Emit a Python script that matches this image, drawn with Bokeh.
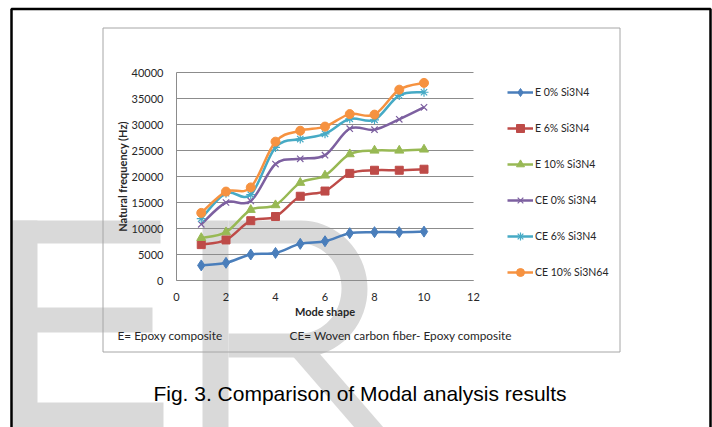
import math
from bokeh.plotting import figure
from bokeh.models import (Range1d, FixedTicker, Label, Legend, LegendItem, LinearAxis, Grid)
from bokeh.embed import file_html
from bokeh.resources import INLINE

# ---------------- data ----------------
modes = [1, 2, 3, 4, 5, 6, 7, 8, 9, 10]
e0 = [2900, 3400, 5000, 5300, 7050, 7550, 9100, 9300, 9300, 9400]
e6 = [6900, 7800, 11500, 12300, 16200, 17200, 20600, 21200, 21200, 21400]
e10 = [8200, 9300, 13600, 14500, 18800, 20200, 24300, 25000, 25000, 25200]
ce0 = [10800, 15000, 15300, 22400, 23400, 24100, 29200, 29000, 31000, 33300]
ce6 = [11900, 16800, 16500, 25600, 27200, 28200, 31100, 30900, 35600, 36200]
ce10 = [13000, 17100, 17900, 26700, 28800, 29600, 32000, 31900, 36700, 38000]
series_names = ["E 0% Si3N4", "E 6% Si3N4", "E 10% Si3N4",
                "CE 0% Si3N4", "CE 6% Si3N4", "CE 10% Si3N64"]
x_ticks = [0, 2, 4, 6, 8, 10, 12]
y_ticks = [0, 5000, 10000, 15000, 20000, 25000, 30000, 35000, 40000]
note_e = "E= Epoxy composite"
note_ce = "CE= Woven carbon fiber- Epoxy composite"
caption = "Fig. 3. Comparison of Modal analysis results"

W, H = 712, 427
# plot-area placement on the page (pixels)
PX0, PX1, PY_TOP, PY_BOT = 176, 473, 72, 280
XMIN, XMAX = x_ticks[0], x_ticks[-1]
YMIN, YMAX = y_ticks[0], y_ticks[-1]
kx = (XMAX - XMIN) / (PX1 - PX0)
ky = (YMAX - YMIN) / (PY_BOT - PY_TOP)

p = figure(width=W, height=H,
           x_range=Range1d(XMIN - PX0 * kx, XMAX + (W - PX1) * kx),
           y_range=Range1d(YMIN - (H - PY_BOT) * ky, YMAX + PY_TOP * ky),
           min_border=0, output_backend="svg", toolbar_location=None,
           x_axis_location=None, y_axis_location=None)
p.extra_x_ranges = {"px": Range1d(0, W)}
p.extra_y_ranges = {"py": Range1d(H, 0)}
p.grid.visible = False
p.outline_line_color = None
p.background_fill_color = "white"
p.border_fill_color = "white"

# ---------------- watermark (page pixels) ----------------
GRAY = "#d9d9d9"


def wrect(l, t, r, b):
    p.quad(left=[l], right=[r], top=[t], bottom=[b], fill_color=GRAY, line_color=None,
           x_range_name="px", y_range_name="py", level="image")


wrect(12, 220, 37, 427)
wrect(12, 220, 160, 243)
wrect(12, 307, 152, 332)
wrect(12, 402, 163, 427)
wrect(202, 220, 228, 427)
bx, byy = [228], [220]
for k in range(37):
    a = -math.pi / 2 + math.pi * k / 36
    bx.append(300 + 67 * math.cos(a)); byy.append(288.5 + 68.5 * math.sin(a))
bx += [228, 228]; byy += [357, 333]
for k in range(37):
    a = math.pi / 2 - math.pi * k / 36
    bx.append(300 + 41 * math.cos(a)); byy.append(288 + 45 * math.sin(a))
bx.append(228); byy.append(243)
p.patch(bx, byy, fill_color=GRAY, line_color=None, x_range_name="px", y_range_name="py",
        level="image")
p.patch([283, 312, 383, 354], [345, 345, 427, 427], fill_color=GRAY, line_color=None,
        x_range_name="px", y_range_name="py", level="image")

# frames
p.quad(left=[102.5], right=[619.5], top=[27.5], bottom=[351.5], fill_alpha=0,
       line_color="#a6a6a6", line_width=1, x_range_name="px", y_range_name="py",
       level="image")
p.quad(left=[11], right=[710], top=[8.5], bottom=[440], fill_alpha=0,
       line_color="black", line_width=2.5, x_range_name="px", y_range_name="py",
       level="overlay")

# ---------------- axes / grid ----------------
GRID_C = "#8c8c8c"
xaxis = LinearAxis(fixed_location=YMIN, bounds=(XMIN, XMAX), ticker=FixedTicker(ticks=x_ticks),
                   axis_label="Mode shape")
yaxis = LinearAxis(fixed_location=XMIN, bounds=(YMIN, YMAX), ticker=FixedTicker(ticks=y_ticks),
                   axis_label="Natural frequency (Hz)")
for ax in (xaxis, yaxis):
    ax.axis_line_color = GRID_C
    ax.major_tick_line_color = None
    ax.minor_tick_line_color = None
    ax.major_label_text_font = "Lato"
    ax.major_label_text_font_size = "11px"
    ax.major_label_text_color = "#262626"
    ax.axis_label_text_font = "Lato"
    ax.axis_label_text_font_size = "11px"
    ax.axis_label_text_font_style = "bold"
    ax.axis_label_text_color = "#262626"
xaxis.major_label_standoff = 6
yaxis.major_label_standoff = 7
xaxis.axis_label_standoff = 1
yaxis.axis_label_standoff = 0
p.add_layout(xaxis, "below")
p.add_layout(yaxis, "left")

try:
    grid = Grid(dimension=1, ticker=FixedTicker(ticks=y_ticks), bounds=(YMIN, YMAX),
                cross_bounds=(XMIN, XMAX), grid_line_color=GRID_C, grid_line_width=1)
    p.add_layout(grid)
except Exception:
    p.segment(x0=[XMIN] * len(y_ticks), x1=[XMAX] * len(y_ticks), y0=y_ticks, y1=y_ticks,
              line_color=GRID_C, line_width=1, level="underlay")


# ---------------- series (Excel-style smoothed lines) ----------------
def smooth_segments(xs, ys):
    """Cubic Bezier segments through the data points (Catmull-Rom control points)."""
    n = len(xs)
    seg = {k: [] for k in ("x0", "y0", "x1", "y1", "cx0", "cy0", "cx1", "cy1")}
    for i in range(n - 1):
        a = max(i - 1, 0)
        d = min(i + 2, n - 1)
        seg["x0"].append(xs[i]); seg["y0"].append(ys[i])
        seg["x1"].append(xs[i + 1]); seg["y1"].append(ys[i + 1])
        seg["cx0"].append(xs[i] + (xs[i + 1] - xs[a]) / 6)
        seg["cy0"].append(ys[i] + (ys[i + 1] - ys[a]) / 6)
        seg["cx1"].append(xs[i + 1] - (xs[d] - xs[i]) / 6)
        seg["cy1"].append(ys[i + 1] - (ys[d] - ys[i]) / 6)
    return seg


styles = [
    (e0, "#4A7EBB", "diamond", 11),
    (e6, "#BE4B48", "square", 8),
    (e10, "#98B954", "triangle", 9),
    (ce0, "#7D60A0", "x", 9),
    (ce6, "#46AAC5", "asterisk", 9),
    (ce10, "#F69240", "circle", 9),
]
items = []
for name, (vals, col, mk, sz) in zip(series_names, styles):
    rl = p.bezier(**smooth_segments(modes, vals), line_color=col, line_width=2.5)
    if mk in ("x", "asterisk"):
        rm = p.scatter(modes, vals, marker=mk, size=sz, line_color=col, line_width=1.2)
    else:
        rm = p.scatter(modes, vals, marker=mk, size=sz, fill_color=col, line_color=col)
    items.append(LegendItem(label=name, renderers=[rl, rm]))

legend = Legend(items=items, location=(507, H - 282), padding=0, margin=0, spacing=16,
                glyph_width=26, glyph_height=20, label_height=20, label_standoff=2,
                border_line_color=None, background_fill_alpha=0,
                label_text_font="Lato", label_text_font_size="10.5px",
                label_text_color="#262626")
p.add_layout(legend)

# ---------------- texts ----------------
p.add_layout(Label(x=117, y=335, x_units="canvas", y_units="canvas", text=note_e,
                   text_font="Lato", text_font_size="11.8px", text_baseline="middle",
                   text_align="left", text_color="#262626"))
p.add_layout(Label(x=289, y=335, x_units="canvas", y_units="canvas", text=note_ce,
                   text_font="Lato", text_font_size="11.8px", text_baseline="middle",
                   text_align="left", text_color="#262626"))
p.add_layout(Label(x=359.5, y=393, x_units="canvas", y_units="canvas", text=caption,
                   text_font="Liberation Sans", text_font_size="21px",
                   text_baseline="alphabetic", text_align="center", text_color="black"))

open("out.html", "w").write(file_html(p, INLINE))
